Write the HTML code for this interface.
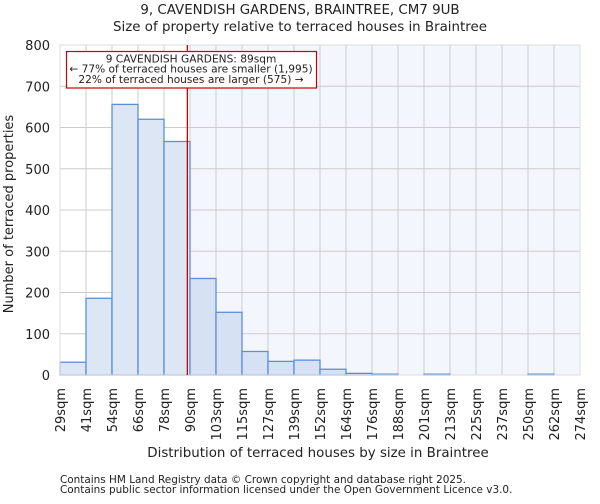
<!DOCTYPE html>
<html><head><meta charset="utf-8"><style>
body{margin:0;background:#fff;font-family:"DejaVu Sans","Liberation Sans",sans-serif}
svg text{fill:#222}
</style></head><body>
<svg id="c" width="600" height="500" font-family="DejaVu Sans, Liberation Sans, sans-serif">
<text x="300" y="14" text-anchor="middle" font-size="13.4">9, CAVENDISH GARDENS, BRAINTREE, CM7 9UB</text>
<text x="300" y="31" text-anchor="middle" font-size="13.4">Size of property relative to terraced houses in Braintree</text>
<g id="plot"></g>
<text x="318" y="457" text-anchor="middle" font-size="13.4">Distribution of terraced houses by size in Braintree</text>
<text transform="translate(13,214) rotate(-90)" text-anchor="middle" font-size="13">Number of terraced properties</text>
<text x="60" y="483" font-size="10.45">Contains HM Land Registry data © Crown copyright and database right 2025.</text>
<text x="60" y="493" font-size="10.45">Contains public sector information licensed under the Open Government Licence v3.0.</text>
</svg>
<script>
const binEdges=[29,41,54,66,78,90,103,115,127,139,152,164,176,188,201,213,225,237,250,262,274];
const counts=[31,186,656,620,566,234,152,57,33,36,14,4,2,0,2,0,0,0,2,0];
const yTicks=[0,100,200,300,400,500,600,700,800];
const subjectSize=89;
const X0=60,X1=580,Y0=375,Y1=45,YMAX=800;
const bw=(X1-X0)/counts.length;
const x=i=>X0+i*bw;
const xv=v=>X0+(v-binEdges[0])/((binEdges[binEdges.length-1]-binEdges[0])/counts.length)*bw;
const y=v=>Y0-(v/YMAX)*(Y0-Y1);
const NS="http://www.w3.org/2000/svg";
const g=document.getElementById('plot');
function mk(t,a){const e=document.createElementNS(NS,t);for(const k in a)e.setAttribute(k,a[k]);g.appendChild(e);return e;}
const hl=mk('rect',{x:x(5),y:Y1,width:X1-x(5),height:Y0-Y1,fill:'#f3f6fd'});


yTicks.forEach(t=>{
 const l=mk('line',{x1:X0,x2:X1,y1:y(t),y2:y(t),stroke:'#ccc','stroke-width':1});
 
 
 const tx=mk('text',{x:50,y:y(t)+5,'text-anchor':'end','font-size':13});
 tx.textContent=t;
 
 
});
binEdges.forEach((b,i)=>{
 const l=mk('line',{x1:x(i),x2:x(i),y1:Y1,y2:Y0,stroke:'#ccc','stroke-width':1});
 
 
 const tx=mk('text',{transform:`translate(${x(i)+5},388) rotate(-90)`,'text-anchor':'end','font-size':13});
 tx.textContent=b+'sqm';
 
 
});
counts.forEach((c,i)=>{
 const r=mk('rect',{x:x(i),y:y(c),width:bw,height:Y0-y(c),fill:i<5?'#dde6f4':'#d6e1f3',stroke:'#5b8fd6','stroke-width':1.3});
 
 
});
const ax=mk('rect',{x:X0,y:Y1,width:X1-X0,height:Y0-Y1,fill:'none',stroke:'#ddd','stroke-width':1});


const ml=mk('line',{x1:xv(subjectSize),x2:xv(subjectSize),y1:Y1,y2:Y0,stroke:'#c00','stroke-width':1.3});


const box=mk('rect',{x:66.5,y:51.5,width:250,height:36.5,fill:'#fff',stroke:'#c00','stroke-width':1.2});


['9 CAVENDISH GARDENS: 89sqm','← 77% of terraced houses are smaller (1,995)','22% of terraced houses are larger (575) →'].forEach((s,i)=>{
 const t=mk('text',{x:191,y:62.5+i*10.2,'text-anchor':'middle','font-size':10.6});
 t.textContent=s;
 
 
});
</script>
</body></html>
